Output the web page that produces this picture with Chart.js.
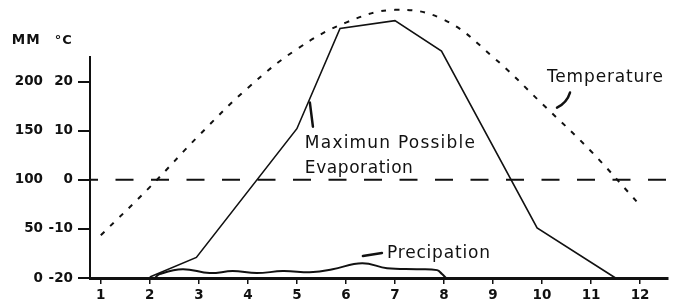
<!DOCTYPE html>
<html><head><meta charset="utf-8">
<script src="https://cdn.jsdelivr.net/npm/chart.js@4.4.0/dist/chart.umd.min.js"></script>
<style>html,body{margin:0;padding:0;background:#fff;overflow:hidden}canvas{display:block}</style>
</head><body>
<canvas id="c" width="675" height="307"></canvas>
<script>
// ---- data ----
const tempMonths = [1,2,3,4,5,6,7,8,9,10,11,12];
const temperatureC = [-11.3,-1.5,9.0,18.7,26.6,32.0,34.6,32.6,25.0,15.5,5.8,-5.2];
const evapMonths = [2.0,2.95,5.0,5.88,7.0,7.95,9.9,11.5];
const evapMM = [1,21,152,254,262,231,51,0];
const precipMonths = [2.1,2.2,2.67,3.22,3.69,4.18,4.71,5.33,5.73,6.33,6.84,7.45,7.86,7.96,8.04];
const precipMM = [0,4,9,5,7,5,7,6,9,15,10,9,8,4,0];
const xTicks = [1,2,3,4,5,6,7,8,9,10,11,12];
const mmTicks = [0,50,100,150,200];
const cTicks = [-20,-10,0,10,20];
const zeroC = 0;

// ---- ranges ----
const xMin = 0.78, xMax = 12.57;
const mmMin = 0, mmMax = 225;
const cMin = -20, cMax = 25;

const ink = '#111';
const FONT = '"DejaVu Sans", sans-serif';

// annotation labels (data coordinates: x in months, y in mm)
const notes = [
  {text:'MM', x:-0.816, y:237.8, w:28, size:13.5, weight:'bold'},
  {text:'°C', x:0.061, y:237.8, w:17, size:13, weight:'bold'},
  {text:'Maximun Possible', x:5.163, y:132.3, w:170, size:17, weight:'normal'},
  {text:'Evaporation', x:5.163, y:106.8, w:108, size:17, weight:'normal'},
  {text:'Temperature', x:10.102, y:200, w:116, size:17, weight:'normal'},
  {text:'Precipation', x:6.837, y:20.4, w:103, size:17, weight:'normal'}
];
const leaders = [
  {from:[5.265,178.6], to:[5.327,154.1]},
  {from:[10.571,188.8], ctrl:[10.51,178.6], to:[10.306,173.5]},
  {from:[6.347,22.4], to:[6.735,25.5]}
];

function fitText(ctx, text, x, y, target, size, weight){
  ctx.font = weight + ' ' + size + 'px ' + FONT;
  ctx.letterSpacing = '0px';
  const w = ctx.measureText(text).width;
  const ls = text.length > 1 ? (target - w) / (text.length - 1) : 0;
  ctx.letterSpacing = ls + 'px';
  ctx.textAlign = 'left';
  ctx.textBaseline = 'alphabetic';
  ctx.fillText(text, x, y);
  ctx.letterSpacing = '0px';
}

const annot = {
  id:'annot',
  afterDatasetsDraw(chart){
    const ctx = chart.ctx, xs = chart.scales.x, ys = chart.scales.yMM;
    const X = v => xs.getPixelForValue(v), Y = v => ys.getPixelForValue(v);
    ctx.save();
    ctx.fillStyle = ink; ctx.strokeStyle = ink;
    notes.forEach(n => fitText(ctx, n.text, X(n.x), Y(n.y), n.w, n.size, n.weight));
    ctx.lineWidth = 2.5; ctx.lineCap = 'round';
    leaders.forEach(l => {
      ctx.beginPath();
      ctx.moveTo(X(l.from[0]), Y(l.from[1]));
      if (l.ctrl) ctx.quadraticCurveTo(X(l.ctrl[0]), Y(l.ctrl[1]), X(l.to[0]), Y(l.to[1]));
      else ctx.lineTo(X(l.to[0]), Y(l.to[1]));
      ctx.stroke();
    });
    ctx.restore();
  }
};

const tickFont = {family: FONT, size: 13.5, weight: 'bold'};

new Chart(document.getElementById('c'), {
  type:'line',
  data:{datasets:[
    {label:'Temperature', yAxisID:'yC',
     data: tempMonths.map((m,i)=>({x:m, y:temperatureC[i]})),
     borderColor:ink, borderWidth:2, borderDash:[5,8], tension:0.4, pointRadius:0, clip:false, fill:false},
    {label:'Maximun Possible Evaporation', yAxisID:'yMM',
     data: evapMonths.map((m,i)=>({x:m, y:evapMM[i]})),
     borderColor:ink, borderWidth:1.6, tension:0, pointRadius:0, clip:false, fill:false},
    {label:'Precipation', yAxisID:'yMM',
     data: precipMonths.map((m,i)=>({x:m, y:precipMM[i]})),
     borderColor:ink, borderWidth:2, tension:0.4, pointRadius:0, clip:false, fill:false},
    {label:'0 °C', yAxisID:'yC',
     data:[{x:xMin, y:zeroC},{x:xMax, y:zeroC}],
     borderColor:ink, borderWidth:2, borderDash:[18,17.5], borderDashOffset:10, pointRadius:0, clip:false, fill:false}
  ]},
  options:{
    responsive:false, animation:false, devicePixelRatio:1,
    layout:{padding:{top:57, right:7, bottom:0, left:0}},
    plugins:{legend:{display:false}, tooltip:{enabled:false}},
    scales:{
      x:{type:'linear', min:xMin, max:xMax,
         afterBuildTicks: s => { s.ticks = xTicks.map(v=>({value:v})); },
         ticks:{font:tickFont, color:ink, padding:3, maxRotation:0, autoSkip:false},
         grid:{drawOnChartArea:false, tickLength:6, color:ink, lineWidth:1.5},
         border:{color:ink, width:3},
         afterFit: s => { s.height = 29; }},
      yC:{type:'linear', position:'left', weight:0, min:cMin, max:cMax,
          afterBuildTicks: s => { s.ticks = cTicks.map(v=>({value:v})); },
          ticks:{font:tickFont, color:ink, padding:5, autoSkip:false},
          grid:{drawOnChartArea:false, tickLength:12, color:ink, lineWidth:2},
          border:{color:ink, width:2},
          afterFit: s => { s.width = 42; }},
      yMM:{type:'linear', position:'left', weight:1, min:mmMin, max:mmMax,
          afterBuildTicks: s => { s.ticks = mmTicks.map(v=>({value:v})); },
          ticks:{font:tickFont, color:ink, padding:5, autoSkip:false},
          grid:{display:false, drawTicks:false},
          border:{display:false},
          afterFit: s => { s.width = 48; }}
    }
  },
  plugins:[annot]
});
</script>
</body></html>
